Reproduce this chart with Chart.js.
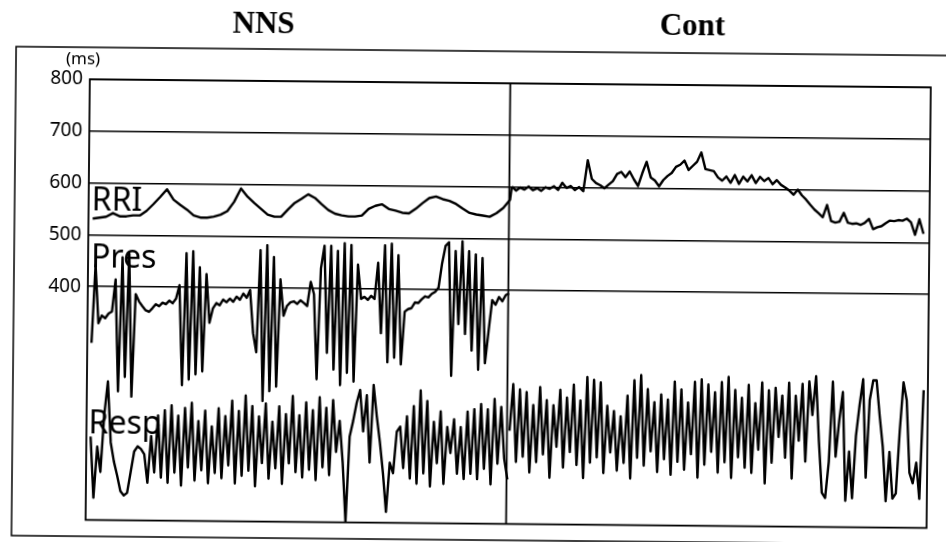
<!DOCTYPE html>
<html>
<head>
<meta charset="utf-8">
<script src="https://cdn.jsdelivr.net/npm/chart.js@4.4.1/dist/chart.umd.min.js"></script>
<style>
html,body{margin:0;padding:0;background:#fff;overflow:hidden;}
#wrap{width:946px;height:542px;transform:rotate(0.55deg);transform-origin:50% 50%;}
canvas{display:block;}
</style>
</head>
<body>
<div id="wrap"><canvas id="c" width="946" height="542"></canvas></div>
<script>
// ---- data (ms-scale values) ----
const sectionTitles = ["NNS", "Cont"];
const traceLabels = ["RRI", "Pres", "Resp"];
const yTickValues = [400, 500, 600, 700, 800];
const timeSpan = [0, 1000];      // arbitrary time units, divider at 500
const dividerAt = 500;

const rriNNS_start = 5, rriNNS_step = 8;
const rriNNS = [531,533,535,542,536,536,538,538,547,560,574,589,569,559,550,539,535,535,537,541,548,566,592,576,564,553,542,538,538,552,565,573,582,575,563,552,545,542,540,540,542,555,561,564,555,552,548,547,556,567,577,580,575,572,566,557,549,546,544,542,549,559,575];

const rriCont_start = 503, rriCont_step = 5;
const rriCont = [601,593,599,595,601,594,598,593,600,597,602,595,609,599,603,595,601,593,653,617,609,605,599,606,613,627,631,621,632,617,604,629,651,621,615,604,616,624,630,642,646,654,636,644,652,670,638,636,634,622,616,624,612,627,610,624,615,627,612,624,616,622,610,618,609,604,598,590,600,589,581,571,562,555,547,571,540,537,539,556,537,535,536,533,537,545,525,529,531,537,542,541,543,542,546,539,515,545,517];

const pres_start = 5, pres_step = 4;
const pres = [291,442,329,344,339,348,352,414,198,457,226,464,188,386,372,363,355,352,359,367,363,370,367,374,369,378,404,211,466,222,470,232,439,238,426,332,360,370,366,377,372,379,373,383,377,389,381,396,313,276,473,182,483,201,460,210,417,347,366,373,375,370,377,372,366,413,389,225,439,483,276,483,244,473,214,488,238,485,221,447,381,385,379,387,381,451,315,485,259,488,268,466,255,357,362,364,375,374,381,387,385,392,396,404,451,485,492,234,475,334,494,315,475,283,469,246,462,259,321,381,372,387,379,391,394];

const respNNS_start = 5, respNNS_step = 4;
const respNNS = [110,-8,91,42,152,217,99,62,35,5,-3,2,42,82,92,87,77,22,112,42,152,32,162,22,172,42,152,17,167,52,177,27,142,47,162,22,132,42,167,32,152,57,182,22,162,37,192,47,172,17,152,62,177,32,142,52,172,22,157,62,192,45,155,35,180,50,165,30,190,55,170,40,185,85,145,65,-50,115,145,180,205,125,195,65,215,155,105,45,-30,65,45,125,135,55,155,35,175,25,205,45,185,20,145,65,165,25,135,85,150,45,135,35,165,45,170,35,180,55,170,25,190,65,175,75,35];

const respCont_start = 503, respCont_step = 4;
const respCont = [129,219,69,209,79,204,49,179,69,214,84,189,39,179,99,209,59,194,89,219,64,189,39,234,69,229,79,224,49,179,89,169,54,159,69,199,39,229,79,239,64,212,92,187,52,202,77,192,47,227,72,212,57,187,87,227,42,232,67,222,92,207,52,227,72,237,42,212,82,197,62,222,52,187,97,227,32,212,72,217,122,202,82,227,42,202,115,225,75,230,165,240,115,15,5,75,230,85,155,210,0,95,5,125,185,235,45,195,233,233,165,105,0,95,5,15,135,230,195,55,35,75,5,215];

// ---- build datasets ----
function series(start, step, vals) {
  return vals.map((v, i) => ({ x: start + i * step, y: v }));
}
const lineStyle = { borderColor: '#000', borderWidth: 2.4, pointRadius: 0, tension: 0, fill: false, borderJoinStyle: 'round' };
const datasets = [
  Object.assign({ label: 'RRI NNS', data: series(rriNNS_start, rriNNS_step, rriNNS) }, lineStyle),
  Object.assign({ label: 'RRI Cont', data: series(rriCont_start, rriCont_step, rriCont) }, lineStyle),
  Object.assign({ label: 'Pres', data: series(pres_start, pres_step, pres) }, lineStyle),
  Object.assign({ label: 'Resp NNS', data: series(respNNS_start, respNNS_step, respNNS) }, lineStyle),
  Object.assign({ label: 'Resp Cont', data: series(respCont_start, respCont_step, respCont) }, lineStyle)
];
// connect RRI across the divider
datasets[0].data.push({ x: rriCont_start, y: rriCont[0] });

const decor = {
  id: 'decor',
  afterDraw(chart) {
    const ctx = chart.ctx, a = chart.chartArea;
    const xs = chart.scales.x;
    ctx.save();
    ctx.strokeStyle = '#000';
    // outer frame
    ctx.lineWidth = 1.5;
    ctx.beginPath();
    ctx.moveTo(960, 51); ctx.lineTo(14, 51); ctx.lineTo(14, 540); ctx.lineTo(960, 540);
    ctx.stroke();
    // plot frame
    ctx.lineWidth = 1.8;
    ctx.strokeRect(a.left, a.top, a.right - a.left, a.bottom - a.top);
    // divider
    const dx = xs.getPixelForValue(dividerAt);
    ctx.beginPath(); ctx.moveTo(dx, a.top); ctx.lineTo(dx, a.bottom); ctx.stroke();
    // section titles
    ctx.fillStyle = '#000';
    ctx.textAlign = 'center'; ctx.textBaseline = 'middle';
    ctx.font = 'bold 31px "Liberation Serif", "DejaVu Serif", serif';
    ctx.fillText(sectionTitles[0], xs.getPixelForValue(206), 27);
    ctx.fillText(sectionTitles[1], xs.getPixelForValue(716), 25);
    // unit
    ctx.font = '17px "Noto Sans", sans-serif';
    ctx.fillText('(ms)', 81, 63);
    // trace labels
    ctx.font = '32px "Noto Sans", sans-serif';
    ctx.textAlign = 'left'; ctx.textBaseline = 'alphabetic';
    ctx.fillText(traceLabels[0], a.left + 3, 214);
    ctx.fillText(traceLabels[1], a.left + 3, 271);
    ctx.fillText(traceLabels[2], a.left + 2, 437);
    ctx.restore();
  }
};

new Chart(document.getElementById('c'), {
  type: 'line',
  data: { datasets },
  options: {
    responsive: false,
    animation: false,
    devicePixelRatio: 1,
    layout: { padding: { left: 0, top: 83, right: 17, bottom: 8 } },
    plugins: { legend: { display: false }, tooltip: { enabled: false }, title: { display: false } },
    scales: {
      x: { type: 'linear', min: timeSpan[0], max: timeSpan[1], display: false },
      y: {
        type: 'linear', min: -51, max: 800,
        afterFit(s) { s.width = 88; },
        afterBuildTicks(s) { s.ticks = yTickValues.map(v => ({ value: v })); },
        grid: { color: '#000', lineWidth: 1.5, drawTicks: false },
        border: { display: false },
        ticks: { color: '#000', padding: 7, font: { family: '"Noto Sans", sans-serif', size: 19 } }
      }
    }
  },
  plugins: [decor]
});
</script>
</body>
</html>
